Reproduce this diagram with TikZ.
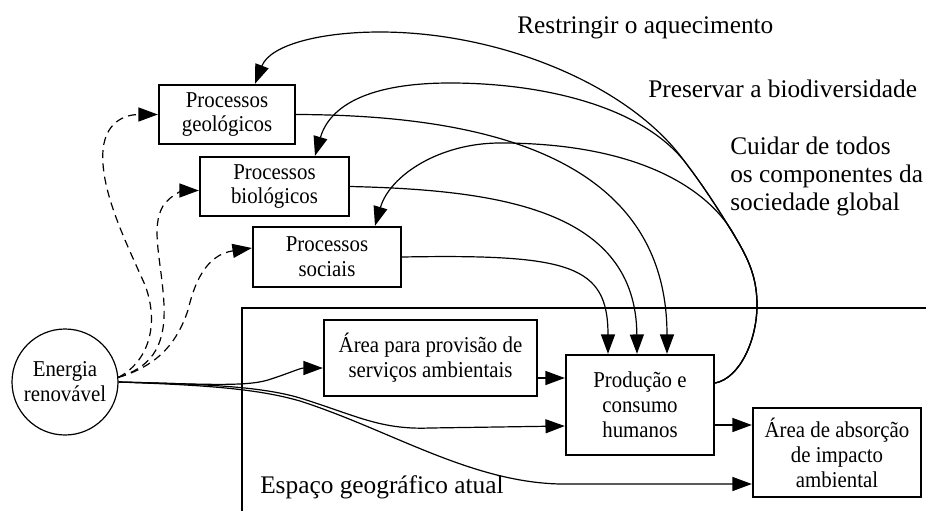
\documentclass[tikz,border=0pt]{standalone}
\usepackage{fontspec}
\setmainfont{Liberation Serif}
\newfontfamily\boxfont[FakeStretch=0.92]{Liberation Serif}
\usetikzlibrary{arrows.meta,calc}
\begin{document}
\begin{tikzpicture}[x=0.75pt,y=-0.75pt,
  box/.style={draw, line width=1.8pt, inner sep=0pt, align=center, font=\boxfont\fontsize{17}{18.7}\selectfont},
  lbl/.style={inner sep=0pt, align=left, font=\fontsize{19}{21}\selectfont},
  conn/.style={line width=0.9pt, -{Triangle[length=14.5pt,width=10.5pt]}},
  dconn/.style={conn, dash pattern=on 6pt off 4pt},
  frame/.style={line width=1.5pt}]
\useasboundingbox (0,0) rectangle (926,511);
\fill[white] (0,0) rectangle (926,511);

% nodes
\node[box, minimum width=102pt, minimum height=44.25pt] (geo) at (227,114.5) {Processos\\geológicos};
\node[box, minimum width=111.75pt, minimum height=44.25pt] (bio) at (274.5,186.5) {Processos\\biológicos};
\node[box, minimum width=111pt, minimum height=45pt] (soc) at (327,257) {Processos\\sociais};
\node[box, minimum width=159.75pt, minimum height=57pt] (prov) at (430.5,358) {Área para provisão de\\serviços ambientais};
\node[box, minimum width=111pt, minimum height=75pt] (prod) at (640,405) {Produção e\\consumo\\humanos};
\node[box, minimum width=126pt, minimum height=66.75pt] (abs) at (837,452.5) {Área de absorção\\de impacto\\ambiental};
\node[draw, circle, line width=0.9pt, minimum size=79.5pt, inner sep=0pt, align=center,
      font=\boxfont\fontsize{17}{18.7}\selectfont] (en) at (65,382) {Energia\\renovável};

% frame
\draw[frame] (242,511) -- (242,308) -- (926,308);

% labels
\node[lbl, anchor=base west] (l1) at (517,33) {Restringir o aquecimento};
\node[lbl, anchor=base west] (l2) at (648,97) {Preservar a biodiversidade};
\node[lbl, anchor=base west] (l3) at (730,210) {Cuidar de todos\\os componentes da\\sociedade global};
\node[lbl, anchor=base west] (l4) at (260,493) {Espaço geográfico atual};

% dashed arrows from energy
\draw[dconn] (en.5) .. controls (148,362) and (160,325) .. (145,285)
  .. controls (125,240) and (100,190) .. (103,150)
  .. controls (106,118) and (130,114.5) .. (geo.west);
\draw[dconn] (en.5) .. controls (148,368) and (166,350) .. (164,305)
  .. controls (162,262) and (150,228) .. (163,206)
  .. controls (171,194) and (185,190.5) .. ($(bio.west)+(0,4)$);
\draw[dconn] (en.5) .. controls (150,368) and (175,350) .. (188,310)
  .. controls (194,285) and (205,255) .. ($(soc.west)+(0,-9)$);

% solid arrows from energy
\draw[conn] (en.east) .. controls (200,384) and (245,387) .. (268,380)
  .. controls (290,373) and (300,368) .. ($(prov.west)+(0,10)$);
\draw[conn] (en.east) .. controls (200,384) and (260,386) .. (300,398)
  .. controls (355,415) and (380,430) .. (430,428) -- ($(prod.west)+(0,21)$);
\draw[conn] (en.east) .. controls (200,385) and (255,388) .. (300,401)
  .. controls (390,430) and (470,482) .. (560,484) -- ($(abs.west)+(0,31.5)$);

% straight arrows
\coordinate (pe) at ($(prov.east)+(0,20)$);
\draw[conn] (pe) -- (pe -| prod.west);
\coordinate (qe) at ($(prod.east)+(0,20)$);
\draw[conn] (qe) -- (qe -| abs.west);

% processes to production
\draw[conn] (soc.east) .. controls (570,254) and (608,265) .. ($(prod.north)+(-32,0)$);
\draw[conn] (bio.east) .. controls (500,190) and (636,210) .. ($(prod.north)+(-3,0)$);
\draw[conn] (geo.east) .. controls (470,115) and (667,150) .. ($(prod.north)+(27,0)$);

% feedback arcs
\coordinate (fb) at ($(prod.east)+(0,-22)$);
\draw[conn] (fb) .. controls (740,378) and (757,340) .. (757,305)
  .. controls (757,280) and (750,262) .. (737,240)
  .. controls (712,190) and (640,143) .. (500,143)
  .. controls (440,143) and (390,175) .. ($(soc.north)+(48,0)$);
\draw[conn] (fb) .. controls (740,378) and (757,340) .. (757,305)
  .. controls (757,280) and (750,262) .. (737,240)
  .. controls (722,215) and (705,188) .. (685,162)
  .. controls (640,105) and (540,83) .. (450,83)
  .. controls (370,83) and (330,105) .. ($(bio.north)+(40.5,0)$);
\draw[conn] (fb) .. controls (740,378) and (757,340) .. (757,305)
  .. controls (757,280) and (750,262) .. (737,240)
  .. controls (722,215) and (705,188) .. (685,162)
  .. controls (630,85) and (500,32) .. (380,32)
  .. controls (320,32) and (270,45) .. ($(geo.north)+(28,0)$);
\end{tikzpicture}
\end{document}
